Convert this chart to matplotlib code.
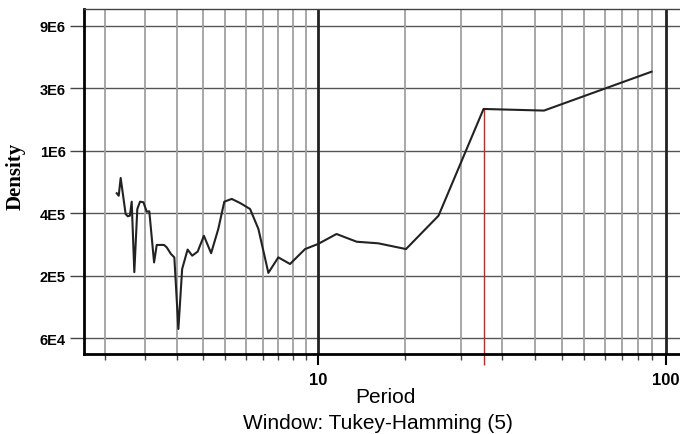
import numpy as np
import matplotlib
matplotlib.use('Agg')
import matplotlib.pyplot as plt
from matplotlib.ticker import FixedLocator, NullFormatter

# spectral density vs period
period = [2.64, 2.675, 2.71, 2.80, 2.84, 2.88, 2.915, 2.966, 3.025, 3.08,
          3.15, 3.22, 3.275, 3.38, 3.44, 3.61, 3.675, 3.78, 3.865, 3.97,
          4.07, 4.22, 4.35, 4.51, 4.70, 4.93, 5.17, 5.38, 5.65, 5.97,
          6.38, 6.74, 7.20, 7.69, 8.31, 9.18, 10.0, 11.3, 12.92, 14.9,
          17.9, 22.2, 29.9, 44.6, 90.9]
density = [6.09e5, 5.85e5, 7.78e5, 4.37e5, 4.21e5, 4.25e5, 5.32e5, 1.72e5, 4.73e5, 5.32e5,
           5.27e5, 4.53e5, 4.56e5, 2.01e5, 2.66e5, 2.66e5, 2.56e5, 2.30e5, 2.18e5, 6.92e4,
           1.81e5, 2.47e5, 2.24e5, 2.39e5, 3.08e5, 2.33e5, 3.44e5, 5.32e5, 5.56e5, 5.21e5,
           4.73e5, 3.44e5, 1.70e5, 2.18e5, 1.96e5, 2.49e5, 2.70e5, 3.17e5, 2.80e5, 2.73e5,
           2.49e5, 4.25e5, 2.35e6, 2.29e6, 4.27e6]

peak_period = 29.9
peak_density = 2.35e6

ytick_labels = ['6E4', '2E5', '4E5', '1E6', '3E6', '9E6']
ytick_pos = np.exp(np.arange(11, 17))

minor_x = [2.44, 3.18, 3.94, 4.67, 5.41, 6.21, 6.95, 7.67, 8.47, 9.24,
           17.8, 25.8, 33.8, 42.0, 50.2, 58.1, 66.8, 74.8, 83.1, 91.2]
major_x = [10, 100]

plt.rcParams['font.family'] = ['Liberation Sans', 'DejaVu Sans']

fig = plt.figure(figsize=(6.8, 4.35), dpi=100)
ax = fig.add_axes([84 / 680, 1 - 355 / 435, 596 / 680, 345 / 435])
ax.set_xscale('log')
ax.set_yscale('log')
ax.set_xlim(2.126, 109.7)
ax.set_ylim(46340, 1.166e7)

# grid
for y in ytick_pos:
    ax.axhline(y, color='#555555', lw=1.0, zorder=1)
for x in minor_x:
    ax.axvline(x, color='#a0a0a0', lw=1.3, zorder=1)
for x in major_x:
    ax.axvline(x, color='#222222', lw=2.0, zorder=1)

ax.plot(period, density, color='#222222', lw=1.5, zorder=3)
ax.vlines(peak_period, 46340 / 1.2, peak_density, color='#b03030',
          lw=1.0, zorder=2, clip_on=False)

ax.yaxis.set_major_locator(FixedLocator(ytick_pos))
ax.set_yticklabels(ytick_labels, fontsize=10.5, fontweight='bold')
ax.yaxis.set_minor_locator(FixedLocator([]))
ax.tick_params(axis='y', length=10, width=1.0, color='#444444', pad=3)

ax.xaxis.set_major_locator(FixedLocator(major_x))
ax.set_xticklabels(['10', '100'], fontsize=12, fontweight='bold')
ax.xaxis.set_minor_locator(FixedLocator(minor_x))
ax.xaxis.set_minor_formatter(NullFormatter())
ax.tick_params(axis='x', which='major', length=8, width=1.5, pad=5)
ax.tick_params(axis='x', which='minor', length=4, width=1.0, color='#444444')

for side in ['left', 'bottom']:
    ax.spines[side].set_linewidth(2.0)
    ax.spines[side].set_color('black')
ax.spines['top'].set_linewidth(1.0)
ax.spines['top'].set_color('#444444')
ax.spines['right'].set_visible(False)

fig.text(385 / 680, 1 - 398 / 435, 'Period', fontsize=15,
         ha='center', va='center')
fig.text(378 / 680, 1 - 424 / 435, 'Window: Tukey-Hamming (5)', fontsize=15,
         ha='center', va='center')
fig.text(16 / 680, 1 - 176 / 435, 'Density', fontsize=15, rotation=90,
         fontweight='bold', ha='center', va='center',
         family=['Liberation Serif', 'DejaVu Serif'])

fig.savefig('out.png', dpi=100)
